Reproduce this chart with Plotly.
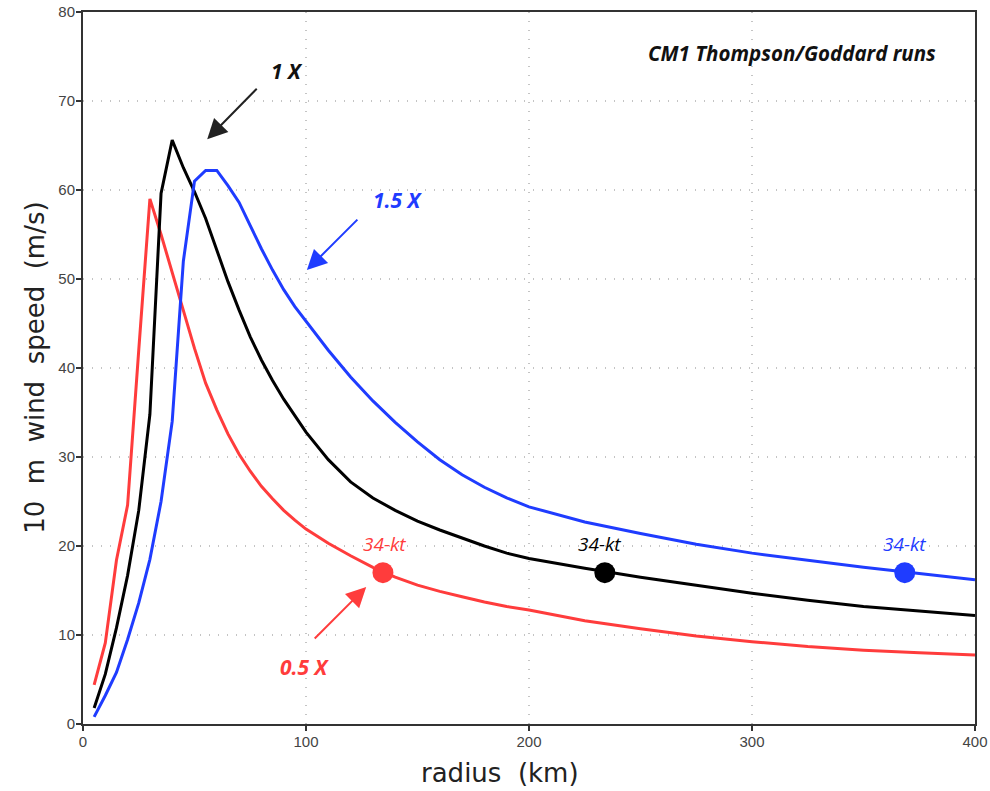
import plotly.graph_objects as go

# Radial profiles of 10 m wind speed (m/s) vs radius (km)
r_half = [5, 10, 15, 20, 25, 30, 35, 40, 45, 50, 55, 60, 65, 70, 75, 80, 85, 90, 95,
          100, 110, 120, 130, 140, 150, 160, 170, 180, 190, 200, 225, 250, 275,
          300, 325, 350, 375, 400]
v_half = [4.4, 9.1, 18.4, 24.6, 42.0, 59.0, 55.0, 50.8, 46.5, 42.2, 38.3, 35.3, 32.6,
          30.3, 28.4, 26.7, 25.3, 24.0, 22.9, 21.9, 20.3, 18.9, 17.6, 16.5, 15.6,
          14.9, 14.3, 13.7, 13.2, 12.8, 11.6, 10.7, 9.9, 9.25, 8.7, 8.3, 8.0, 7.75]

r_one = [5, 10, 15, 20, 25, 30, 35, 40, 45, 50, 55, 60, 65, 70, 75, 80, 85, 90, 95,
         100, 110, 120, 130, 140, 150, 160, 170, 180, 190, 200, 225, 250, 275,
         300, 325, 350, 375, 400]
v_one = [1.8, 5.6, 10.8, 16.7, 24.0, 34.8, 59.6, 65.6, 62.5, 59.8, 56.8, 53.3, 49.7,
         46.5, 43.5, 40.9, 38.6, 36.5, 34.6, 32.8, 29.7, 27.2, 25.4, 24.0, 22.8,
         21.8, 20.9, 20.0, 19.2, 18.6, 17.5, 16.5, 15.6, 14.7, 13.9, 13.2, 12.7, 12.2]

r_one_half = [5, 10, 15, 20, 25, 30, 35, 40, 45, 50, 55, 60, 65, 70, 75, 80, 85, 90,
              95, 100, 110, 120, 130, 140, 150, 160, 170, 180, 190, 200, 225, 250,
              275, 300, 325, 350, 375, 400]
v_one_half = [0.8, 3.2, 5.8, 9.5, 13.6, 18.5, 25.0, 34.0, 52.0, 61.0, 62.2, 62.2,
              60.5, 58.6, 56.0, 53.4, 51.0, 48.8, 46.9, 45.3, 42.0, 39.0, 36.3, 33.9,
              31.7, 29.7, 28.0, 26.6, 25.4, 24.4, 22.7, 21.4, 20.2, 19.2, 18.4, 17.6,
              16.9, 16.2]

# radius where each profile drops to 34 kt
r34 = [134.5, 234.0, 368.5]
v34 = [17.0, 17.0, 17.0]

RED = "#ff3c3c"
BLACK = "#000000"
BLUE = "#1f3cff"

fig = go.Figure()
for rr, vv, col in [(r_half, v_half, RED), (r_one, v_one, BLACK),
                    (r_one_half, v_one_half, BLUE)]:
    fig.add_trace(go.Scatter(x=rr, y=vv, mode="lines",
                             line=dict(color=col, width=3), showlegend=False))

for x34, y34, col, dx in zip(r34, v34, [RED, BLACK, BLUE], [2, -5, 0]):
    fig.add_trace(go.Scatter(x=[x34], y=[y34], mode="markers",
                             marker=dict(color=col, size=21), showlegend=False))
    fig.add_annotation(x=x34, y=y34, text="34-kt", showarrow=False, yshift=29,
                       xshift=dx,
                       font=dict(family="Open Sans", size=19, color=col,
                                 style="italic"))

bi = dict(family="Open Sans", weight="bold", style="italic")

# case labels with pointer arrows
fig.add_annotation(x=55.7, y=65.7, ax=51, ay=-52, text="", showarrow=True,
                   arrowhead=2, arrowsize=2, arrowwidth=2, arrowcolor="#222")
fig.add_annotation(x=100.4, y=51.0, ax=52, ay=-52, text="", showarrow=True,
                   arrowhead=2, arrowsize=2, arrowwidth=2, arrowcolor=BLUE)
fig.add_annotation(x=127.0, y=15.4, ax=-53, ay=53, text="", showarrow=True,
                   arrowhead=2, arrowsize=2, arrowwidth=2, arrowcolor=RED)

fig.add_annotation(x=91.4, y=73.4, text="1 X", showarrow=False,
                   font=dict(size=21, color="#111", **bi))
fig.add_annotation(x=141.1, y=58.9, text="1.5 X", showarrow=False,
                   font=dict(size=21, color=BLUE, **bi))
fig.add_annotation(x=99.7, y=6.44, text="0.5 X", showarrow=False,
                   font=dict(size=21, color=RED, **bi))
fig.add_annotation(x=383.4, y=75.4, text="CM1 Thompson/Goddard runs", showarrow=False,
                   xanchor="right",
                   font=dict(size=20.5, color="#111", **bi))

# axis titles
NB = "\u00a0"
fig.add_annotation(xref="paper", yref="paper", x=0.4675, y=-0.069,
                   xanchor="center", yanchor="middle",
                   text=f"radius{NB}{NB}(km)", showarrow=False,
                   font=dict(family="DejaVu Sans", size=26, color="#222"))
fig.add_annotation(xref="paper", yref="paper", x=-0.054, y=0.5, textangle=-90,
                   xanchor="center", yanchor="middle",
                   text=f"10{NB}{NB}m{NB}{NB}wind{NB}{NB}speed{NB}{NB}(m/s)",
                   showarrow=False,
                   font=dict(family="DejaVu Sans", size=26, color="#222"))

axis_common = dict(showline=True, linecolor="#333", linewidth=2, mirror=True,
                   ticks="outside", ticklen=5, tickcolor="#333", tickwidth=1.5,
                   ticklabelstandoff=-2,
                   showgrid=True, gridcolor="#c4c4c4", griddash="1px,8px", gridwidth=1.5,
                   zeroline=False, automargin=False,
                   tickfont=dict(family="Liberation Sans", size=15, color="#444"))

fig.update_xaxes(range=[0, 400], tickvals=[0, 100, 200, 300, 400], **axis_common)
fig.update_yaxes(range=[0, 80], tickvals=list(range(0, 81, 10)), **axis_common)

fig.update_layout(width=990, height=791,
                  margin=dict(l=83, r=15, t=12, b=67, autoexpand=False),
                  plot_bgcolor="white", paper_bgcolor="white")

fig.write_html("out.html")
